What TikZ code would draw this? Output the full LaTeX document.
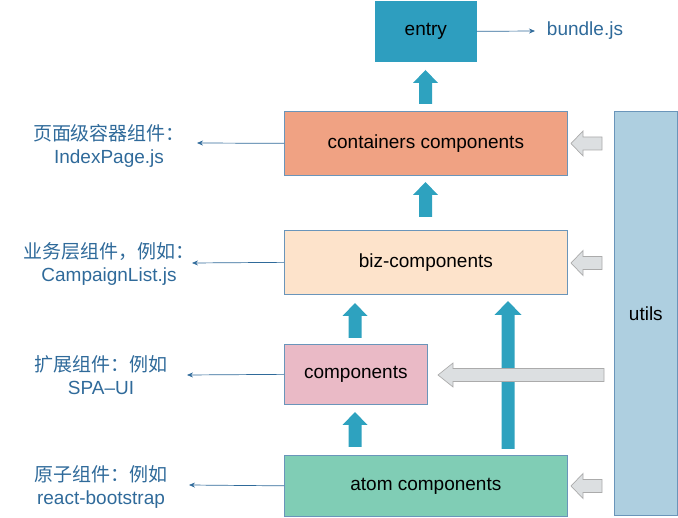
\documentclass[tikz,border=0pt]{standalone}
\usepackage{fontspec}
\setmainfont{Liberation Sans}
\newfontfamily\cjk{Noto Sans CJK SC}
\usetikzlibrary{arrows.meta}
\definecolor{entryc}{HTML}{2E9EBF}
\definecolor{contc}{HTML}{F0A283}
\definecolor{bizc}{HTML}{FDE3CB}
\definecolor{compc}{HTML}{EABAC6}
\definecolor{atomc}{HTML}{80CDB5}
\definecolor{utilc}{HTML}{AECFE0}
\definecolor{bordc}{HTML}{6A95BA}
\definecolor{labc}{HTML}{2F6A9A}
\definecolor{greyf}{HTML}{DCDFE1}
\definecolor{greyd}{HTML}{ABABAB}
\definecolor{tealc}{HTML}{2EA2BF}
\newcommand\blkup[6]{% x, ytip, yheadbase, ybottom, halfshaft, halfhead
  \fill[tealc] (#1,#2) -- (#1+#6,#3) -- (#1+#5,#3) -- (#1+#5,#4) -- (#1-#5,#4) -- (#1-#5,#3) -- (#1-#6,#3) -- cycle;}
\newcommand\blkleft[6]{% y, xtip, xheadbase, xend, halfshaft, halfhead
  \filldraw[fill=greyf,draw=greyd,line width=0.7pt] (#2,#1) -- (#3,#1-#6) -- (#3,#1-#5) -- (#4,#1-#5) -- (#4,#1+#5) -- (#3,#1+#5) -- (#3,#1+#6) -- cycle;}
\tikzset{
  box/.style={draw=bordc,line width=0.7pt,anchor=north west,inner sep=0pt,
    font=\fontsize{19}{22}\selectfont,text=black},
  lab/.style={text=labc,align=center,font=\fontsize{19}{23}\selectfont,inner sep=0pt},
  thin/.style={draw=labc,line width=0.7pt,-{Stealth[length=6pt,width=5pt]}}
}
\begin{document}
\begin{tikzpicture}[x=1pt,y=-1pt]
\useasboundingbox (0,0) rectangle (678,518);
% boxes
\node[box,fill=entryc,draw=entryc,minimum width=101pt,minimum height=60pt] (entry) at (375,1) {entry};
\node[box,fill=contc,minimum width=283pt,minimum height=64pt] (cont) at (284,111) {containers components};
\node[box,fill=bizc,minimum width=283pt,minimum height=64pt] (biz) at (284,230) {biz-components};
\node[box,fill=compc,minimum width=143pt,minimum height=60pt] (comp) at (284,344) {components};
\node[box,fill=atomc,minimum width=283pt,minimum height=61pt] (atom) at (284,455) {atom components};
\node[box,fill=utilc,minimum width=63pt,minimum height=404pt] (utils) at (614,111) {};
\node[font=\fontsize{19}{22}\selectfont] (utilt) at (utils.center) {utils};
% bundle
\node[text=labc,font=\fontsize{19}{22}\selectfont,inner sep=0pt] (bundle) at (585,31) {bundle.js};
\coordinate (bt) at (535,31);
\draw[thin] (entry.east) -- (bt);
% left labels
\node[lab] (l1) at (109,145.5) {{\cjk 页面级容器组件：}\\IndexPage.js};
\node[lab] (l2) at (109,263.5) {{\cjk 业务层组件，例如：}\\CampaignList.js};
\node[lab] (l3) at (101,375) {{\cjk 扩展组件：例如}\\SPA–UI};
\node[lab] (l4) at (101,486.5) {{\cjk 原子组件：例如}\\react-bootstrap};
\coordinate (t1) at (197,143);
\coordinate (t2) at (192,263);
\coordinate (t3) at (187,375);
\coordinate (t4) at (189,485);
\draw[thin] (cont.west) -- (t1);
\draw[thin] (biz.west) -- (t2);
\draw[thin] (comp.west) -- (t3);
\draw[thin] (atom.west) -- (t4);
% teal block arrows
\blkup{425.5}{70}{83}{104}{6.5}{12.5}
\blkup{425.5}{182}{195}{217}{6.5}{12.5}
\blkup{355}{303}{316}{338}{6.5}{12.5}
\blkup{508}{301}{315}{449}{6.5}{13.5}
\blkup{355}{412}{425}{447}{6.5}{12.5}
% grey block arrows
\blkleft{143.5}{571}{583}{602}{6.5}{12.5}
\blkleft{263}{571}{583}{602}{6.5}{12.5}
\blkleft{375}{438}{453}{604}{6.5}{12}
\blkleft{486}{571}{583}{602}{6.5}{12.5}
\end{tikzpicture}
\end{document}
